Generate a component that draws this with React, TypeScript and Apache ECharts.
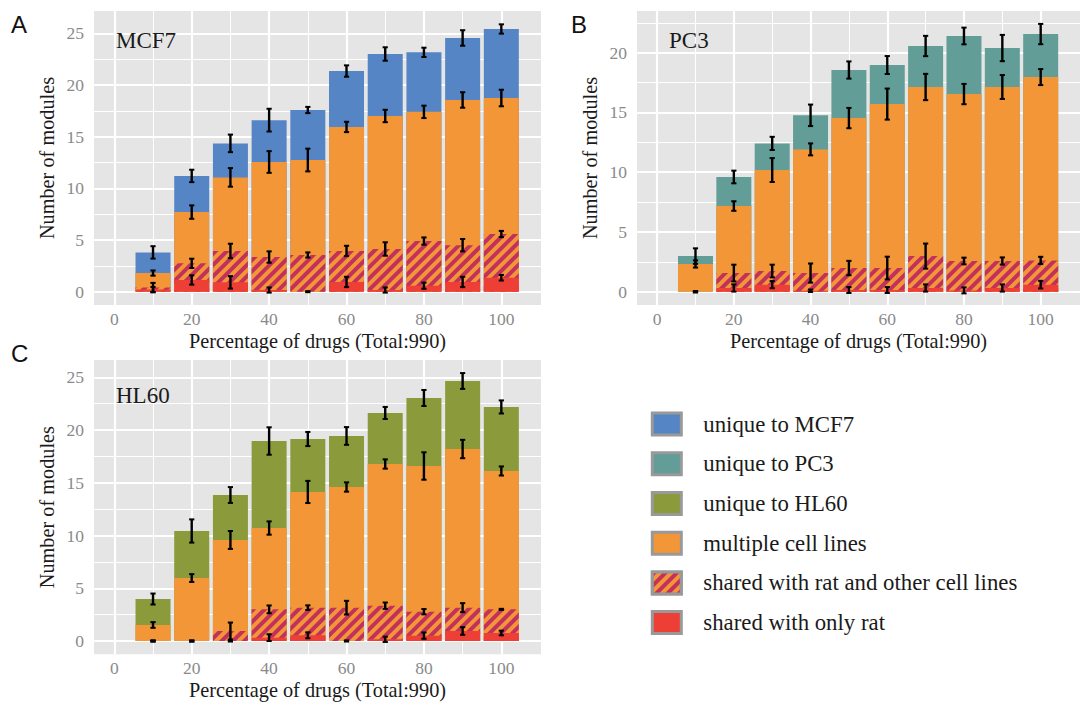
import React, { useEffect, useRef } from "react";
import * as echarts from "echarts";

// ---- axis values ----
const xPositions = [10, 20, 30, 40, 50, 60, 70, 80, 90, 100];
const xMajorTicks = [0, 20, 40, 60, 80, 100];
const xMinorTicks = [10, 30, 50, 70, 90];
const yMajorTicks25 = [0, 5, 10, 15, 20, 25];
const yMajorTicks20 = [0, 5, 10, 15, 20];
const yMinorTicks = [2.5, 7.5, 12.5, 17.5, 22.5];

// ---- MCF7 (top of each layer, and error half-widths) ----
const mcf7UniqueTop = [3.8, 11.2, 14.35, 16.6, 17.58, 21.35, 23.0, 23.16, 24.55, 25.42];
const mcf7UniqueErr = [0.6, 0.6, 0.85, 1.1, 0.3, 0.55, 0.65, 0.45, 0.75, 0.45];
const mcf7MultiTop = [1.8, 7.7, 11.06, 12.55, 12.74, 15.94, 17.0, 17.4, 18.55, 18.74];
const mcf7MultiErr = [0.25, 0.65, 0.9, 1.05, 1.1, 0.5, 0.6, 0.6, 0.75, 0.8];
const mcf7RatOtherTop = [0.4, 2.74, 3.94, 3.35, 3.55, 3.94, 4.13, 4.9, 4.5, 5.58];
const mcf7RatOtherErr = [0.45, 0.45, 0.7, 0.55, 0.25, 0.5, 0.65, 0.35, 0.6, 0.3];
const mcf7RatOnlyTop = [0.2, 1.13, 0.9, 0.16, 0.0, 0.94, 0.16, 0.58, 0.94, 1.35];
const mcf7RatOnlyErr = [0.25, 0.45, 0.6, 0.25, 0.05, 0.5, 0.25, 0.3, 0.5, 0.27];

// ---- PC3 ----
const pc3UniqueTop = [2.98, 9.6, 12.41, 14.76, 18.55, 18.97, 20.56, 21.4, 20.39, 21.56];
const pc3UniqueErr = [0.65, 0.53, 0.55, 0.9, 0.72, 0.75, 0.85, 0.7, 1.1, 0.85];
const pc3MultiTop = [2.32, 7.17, 10.18, 11.91, 14.53, 15.7, 17.13, 16.54, 17.13, 17.96];
const pc3MultiErr = [0.3, 0.4, 1.0, 0.5, 0.85, 1.3, 1.1, 0.85, 1.0, 0.67];
const pc3RatOtherTop = [0, 1.56, 1.73, 1.56, 1.98, 1.98, 2.98, 2.57, 2.57, 2.62];
const pc3RatOtherErr = [0.05, 0.7, 0.53, 0.8, 0.6, 0.95, 1.05, 0.28, 0.3, 0.3];
const pc3RatOnlyTop = [0, 0.31, 0.59, 0.08, 0.14, 0.14, 0.31, 0.11, 0.31, 0.59];
const pc3RatOnlyErr = [0.05, 0.3, 0.3, 0.1, 0.25, 0.25, 0.3, 0.25, 0.3, 0.32];

// ---- HL60 ----
const hl60UniqueTop = [3.98, 10.43, 13.84, 18.96, 19.15, 19.44, 21.62, 23.04, 24.65, 22.19];
const hl60UniqueErr = [0.52, 1.1, 0.75, 1.3, 0.67, 0.84, 0.57, 0.76, 0.75, 0.62];
const hl60MultiTop = [1.52, 5.97, 9.58, 10.71, 14.13, 14.6, 16.78, 16.59, 18.2, 16.12];
const hl60MultiErr = [0.27, 0.37, 0.85, 0.63, 1.05, 0.44, 0.44, 1.3, 0.87, 0.43];
const hl60RatOtherTop = [0, 0, 0.95, 3.0, 3.16, 3.16, 3.35, 2.78, 3.16, 3.0];
const hl60RatOtherErr = [0.05, 0.05, 0.8, 0.37, 0.22, 0.65, 0.3, 0.25, 0.43, 0.05];
const hl60RatOnlyTop = [0, 0, 0, 0.32, 0.54, 0, 0.16, 0.51, 0.95, 0.76];
const hl60RatOnlyErr = [0.05, 0.05, 0.05, 0.32, 0.28, 0.05, 0.25, 0.3, 0.36, 0.22];

// ---- names ----
const legendNames = [
  "unique to MCF7",
  "unique to PC3",
  "unique to HL60",
  "multiple cell lines",
  "shared with rat and other cell lines",
  "shared with only rat",
];
const xAxisTitle = "Percentage of drugs (Total:990)";
const yAxisTitle = "Number of modules";

// ---- styles ----
const BLUE = "#5585C4";
const TEAL = "#629E97";
const OLIVE = "#8B9A3B";
const ORANGE = "#F39638";
const RED = "#EE3F36";
const STRIPE = "#C2305C";
const PANEL_BG = "#E5E5E5";
const SERIF = "'Liberation Serif', 'DejaVu Serif', serif";
const SANS = "'Liberation Sans', Arial, sans-serif";

const HATCH = {
  symbol: "rect",
  symbolSize: 1,
  color: STRIPE,
  dashArrayX: [1, 0],
  dashArrayY: [3.2, 3.4],
  rotation: -Math.PI / 4,
};

const panels = [
  {
    label: "MCF7",
    letter: "A",
    uniqueName: legendNames[0],
    uniqueColor: BLUE,
    uniqueTop: mcf7UniqueTop, uniqueErr: mcf7UniqueErr,
    multiTop: mcf7MultiTop, multiErr: mcf7MultiErr,
    ratOtherTop: mcf7RatOtherTop, ratOtherErr: mcf7RatOtherErr,
    ratOnlyTop: mcf7RatOnlyTop, ratOnlyErr: mcf7RatOnlyErr,
    grid: { left: 94, top: 11, width: 447, height: 294 },
    yMin: -1.29, yMax: 27.16, yTicks: yMajorTicks25,
    letterPos: [11, 12], labelPos: [116, 29],
  },
  {
    label: "PC3",
    letter: "B",
    uniqueName: legendNames[1],
    uniqueColor: TEAL,
    uniqueTop: pc3UniqueTop, uniqueErr: pc3UniqueErr,
    multiTop: pc3MultiTop, multiErr: pc3MultiErr,
    ratOtherTop: pc3RatOtherTop, ratOtherErr: pc3RatOtherErr,
    ratOnlyTop: pc3RatOnlyTop, ratOnlyErr: pc3RatOnlyErr,
    grid: { left: 637, top: 11, width: 447, height: 294 },
    yMin: -1.113, yMax: 23.49, yTicks: yMajorTicks20,
    letterPos: [571, 12], labelPos: [669, 29],
  },
  {
    label: "HL60",
    letter: "C",
    uniqueName: legendNames[2],
    uniqueColor: OLIVE,
    uniqueTop: hl60UniqueTop, uniqueErr: hl60UniqueErr,
    multiTop: hl60MultiTop, multiErr: hl60MultiErr,
    ratOtherTop: hl60RatOtherTop, ratOtherErr: hl60RatOtherErr,
    ratOnlyTop: hl60RatOnlyTop, ratOnlyErr: hl60RatOnlyErr,
    grid: { left: 94, top: 360, width: 447, height: 294.3 },
    yMin: -1.26, yMax: 26.64, yTicks: yMajorTicks25,
    letterPos: [11, 341], labelPos: [116, 384],
  },
];

function buildOption() {
  const grids: any[] = [];
  const xAxes: any[] = [];
  const yAxes: any[] = [];
  const series: any[] = [];
  const graphic: any[] = [];

  panels.forEach((p, i) => {
    grids.push({
      ...p.grid,
      show: true,
      backgroundColor: PANEL_BG,
      borderWidth: 0,
      containLabel: false,
    });
    xAxes.push({
      type: "value",
      gridIndex: i,
      min: -5.25,
      max: 110.25,
      axisLine: { show: false },
      axisTick: {
        show: true,
        customValues: xMajorTicks,
        length: 5,
        lineStyle: { color: "#8a8a8a", width: 2 },
      },
      axisLabel: {
        customValues: xMajorTicks,
        color: "#8a8a8a",
        fontSize: 17.5,
        fontFamily: SERIF,
        margin: 5,
      },
      splitLine: { show: false },
      name: xAxisTitle,
      nameLocation: "middle",
      nameGap: 26,
      nameTextStyle: { fontSize: 20.3, fontFamily: SERIF, color: "#1a1a1a" },
    });
    yAxes.push({
      type: "value",
      gridIndex: i,
      min: p.yMin,
      max: p.yMax,
      axisLine: { show: false },
      axisTick: {
        show: true,
        customValues: p.yTicks,
        length: 5,
        lineStyle: { color: "#8a8a8a", width: 2 },
      },
      axisLabel: {
        customValues: p.yTicks,
        color: "#8a8a8a",
        fontSize: 17.5,
        fontFamily: SERIF,
        margin: 10,
      },
      splitLine: { show: false },
      name: yAxisTitle,
      nameLocation: "middle",
      nameGap: 37,
      nameTextStyle: { fontSize: 20.3, fontFamily: SERIF, color: "#1a1a1a" },
    });

    // grid lines through the axes' scales
    const yMinor = yMinorTicks.filter((v) => v < p.yMax);
    series.push({
      type: "line",
      name: "grid" + i,
      xAxisIndex: i,
      yAxisIndex: i,
      data: [],
      z: 1,
      silent: true,
      markLine: {
        z: 1,
        silent: true,
        symbol: ["none", "none"],
        label: { show: false },
        emphasis: { disabled: true },
        animation: false,
        data: [
          ...p.yTicks.map((v) => ({ yAxis: v, lineStyle: { color: "#fff", width: 2.2, type: "solid" } })),
          ...yMinor.map((v) => ({ yAxis: v, lineStyle: { color: "#fff", width: 1, type: "solid" } })),
          ...xMajorTicks.map((v) => ({ xAxis: v, lineStyle: { color: "#fff", width: 2.2, type: "solid" } })),
          ...xMinorTicks.map((v) => ({ xAxis: v, lineStyle: { color: "#fff", width: 1, type: "solid" } })),
        ],
      },
    });

    const common = {
      type: "bar",
      xAxisIndex: i,
      yAxisIndex: i,
      barWidth: 35,
      barGap: "-100%",
      emphasis: { disabled: true },
    };
    series.push({
      ...common,
      name: p.uniqueName,
      z: 2,
      itemStyle: { color: p.uniqueColor },
      data: xPositions.map((x, k) => [x, p.uniqueTop[k]]),
    });
    series.push({
      ...common,
      name: legendNames[3],
      z: 3,
      itemStyle: { color: ORANGE },
      data: xPositions.map((x, k) => [x, p.multiTop[k]]),
    });
    series.push({
      ...common,
      name: legendNames[4],
      z: 4,
      itemStyle: { color: ORANGE, decal: HATCH },
      data: xPositions.map((x, k) => [x, p.ratOtherTop[k]]),
    });
    series.push({
      ...common,
      name: legendNames[5],
      z: 5,
      itemStyle: { color: RED },
      data: xPositions.map((x, k) => [x, p.ratOnlyTop[k]]),
    });

    const errData: number[][] = [];
    const layers = [
      [p.uniqueTop, p.uniqueErr],
      [p.multiTop, p.multiErr],
      [p.ratOtherTop, p.ratOtherErr],
      [p.ratOnlyTop, p.ratOnlyErr],
    ];
    layers.forEach(([tops, errs]) => {
      xPositions.forEach((x, k) => errData.push([x, tops[k], errs[k]]));
    });
    series.push({
      type: "custom",
      name: "err" + i,
      xAxisIndex: i,
      yAxisIndex: i,
      z: 6,
      silent: true,
      encode: { x: 0, y: 1 },
      data: errData,
      renderItem: (params: any, api: any) => {
        const x = api.value(0);
        const y = api.value(1);
        const e = api.value(2);
        const lo = api.coord([x, y - e]);
        const hi = api.coord([x, y + e]);
        const cap = 2.6;
        const st = { stroke: "#000", lineWidth: 2.4 };
        return {
          type: "group",
          children: [
            { type: "line", shape: { x1: lo[0], y1: lo[1], x2: hi[0], y2: hi[1] }, style: st },
            { type: "line", shape: { x1: lo[0] - cap, y1: lo[1], x2: lo[0] + cap, y2: lo[1] }, style: { ...st, lineWidth: 2 } },
            { type: "line", shape: { x1: hi[0] - cap, y1: hi[1], x2: hi[0] + cap, y2: hi[1] }, style: { ...st, lineWidth: 2 } },
          ],
        };
      },
    });

    graphic.push({
      type: "text",
      x: p.letterPos[0],
      y: p.letterPos[1],
      z: 100,
      style: { text: p.letter, fontSize: 24, fontFamily: SANS, fill: "#111", verticalAlign: "top" },
    });
    graphic.push({
      type: "text",
      x: p.labelPos[0],
      y: p.labelPos[1],
      z: 100,
      style: { text: p.label, fontSize: 23, fontFamily: SERIF, fill: "#1a1a1a", verticalAlign: "top" },
    });
  });

  return {
    animation: false,
    backgroundColor: "#fff",
    grid: grids,
    xAxis: xAxes,
    yAxis: yAxes,
    series,
    graphic,
    legend: {
      data: legendNames,
      orient: "vertical",
      left: 650.8,
      top: 411.6,
      padding: 0,
      itemWidth: 29,
      itemHeight: 22,
      itemGap: 14.7,
      icon: "rect",
      selectedMode: false,
      itemStyle: { borderColor: "#999", borderWidth: 3 },
      textStyle: {
        fontSize: 22.8,
        fontFamily: SERIF,
        color: "#1a1a1a",
        lineHeight: 22,
        padding: [0, 0, 0, 17],
      },
    },
  };
}

export default function App() {
  const ref = useRef<HTMLDivElement>(null);
  useEffect(() => {
    if (!ref.current) return;
    const chart = echarts.init(ref.current, undefined, { renderer: "svg" });
    chart.setOption(buildOption() as any);
    return () => chart.dispose();
  }, []);
  return (
    <div
      ref={ref}
      style={{ position: "fixed", left: 0, top: 0, width: 1080, height: 708, background: "#fff" }}
    />
  );
}
